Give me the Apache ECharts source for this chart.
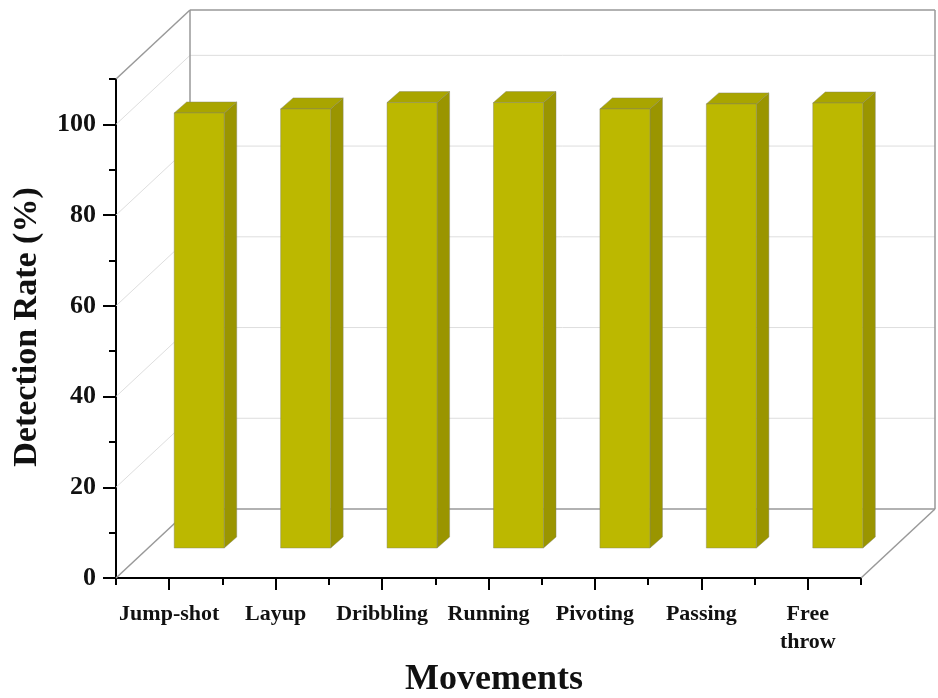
<!DOCTYPE html>
<html>
<head>
<meta charset="utf-8">
<script src="https://cdn.jsdelivr.net/npm/echarts@6/dist/echarts.min.js"></script>
<style>
  html, body { margin: 0; padding: 0; background: #fff; }
  #chart { width: 938px; height: 698px; }
</style>
</head>
<body>
<div id="chart"></div>
<script>
// Detection rate per basketball movement
const movements = ['Jump-shot', 'Layup', 'Dribbling', 'Running', 'Pivoting', 'Passing', 'Free\nthrow'];
const detectionRate = [95.9, 96.8, 98.2, 98.2, 96.8, 97.9, 98.1];
const yTickLabels = [0, 20, 40, 60, 80, 100];
const yMax = 110;

// Pseudo-3D geometry (pixels)
const DEPTH_X = 74, DEPTH_Y = -69;          // back wall offset from the front plane
const BAR_OFFSET_X = 30, BAR_OFFSET_Y = -30; // bar front face offset
const BAR_DEPTH_X = 12.5, BAR_DEPTH_Y = -11; // bar thickness
const BAR_WIDTH_RATIO = 0.47;

const FONT = "'Liberation Serif', 'Times New Roman', serif";
const FRONT_COLOR = '#bcb800', SIDE_COLOR = '#9a9500', TOP_COLOR = '#a9a500';

// Back wall, left wall and floor of the box
function renderBox(params, api) {
  const cs = params.coordSys;
  const x0 = cs.x, x1 = cs.x + cs.width;
  const y0 = api.coord([0, 0])[1];
  const yTop = api.coord([0, yMax])[1];
  const children = [];
  const line = (ax, ay, bx, by, color, width) => children.push({
    type: 'line',
    shape: { x1: ax, y1: ay, x2: bx, y2: by },
    style: { stroke: color, lineWidth: width },
    silent: true
  });
  const gridColor = '#dedede', edgeColor = '#999999';
  yTickLabels.forEach(v => {
    if (v === 0) return;
    const y = api.coord([0, v])[1];
    line(x0, y, x0 + DEPTH_X, y + DEPTH_Y, gridColor, 1);
    line(x0 + DEPTH_X, y + DEPTH_Y, x1 + DEPTH_X, y + DEPTH_Y, gridColor, 1);
  });
  line(x0, y0, x0 + DEPTH_X, y0 + DEPTH_Y, edgeColor, 1.5);
  line(x1, y0, x1 + DEPTH_X, y0 + DEPTH_Y, edgeColor, 1.5);
  line(x0 + DEPTH_X, y0 + DEPTH_Y, x1 + DEPTH_X, y0 + DEPTH_Y, edgeColor, 1.5);
  line(x0, yTop, x0 + DEPTH_X, yTop + DEPTH_Y, edgeColor, 1.5);
  line(x0 + DEPTH_X, yTop + DEPTH_Y, x1 + DEPTH_X, yTop + DEPTH_Y, edgeColor, 1.5);
  line(x0 + DEPTH_X, y0 + DEPTH_Y, x0 + DEPTH_X, yTop + DEPTH_Y, edgeColor, 1.5);
  line(x1 + DEPTH_X, y0 + DEPTH_Y, x1 + DEPTH_X, yTop + DEPTH_Y, edgeColor, 1.5);
  return { type: 'group', children };
}

// One extruded bar: front, side and top faces
function renderBar(params, api) {
  const i = api.value(0), v = api.value(1);
  const base = api.coord([i, 0]);
  const top = api.coord([i, v]);
  const w = api.size([1, 0])[0] * BAR_WIDTH_RATIO;
  const fx = base[0] + BAR_OFFSET_X - w / 2;
  const yb = base[1] + BAR_OFFSET_Y;
  const yt = top[1] + BAR_OFFSET_Y;
  const dx = BAR_DEPTH_X, dy = BAR_DEPTH_Y;
  const stroke = 'rgba(130,130,100,0.55)';
  const face = (pts, fill) => ({
    type: 'polygon',
    shape: { points: pts },
    style: { fill: fill, stroke: stroke, lineWidth: 0.8 }
  });
  return {
    type: 'group',
    children: [
      face([[fx + w, yt], [fx + w + dx, yt + dy], [fx + w + dx, yb + dy], [fx + w, yb]], SIDE_COLOR),
      face([[fx, yt], [fx + dx, yt + dy], [fx + w + dx, yt + dy], [fx + w, yt]], TOP_COLOR),
      face([[fx, yt], [fx + w, yt], [fx + w, yb], [fx, yb]], FRONT_COLOR)
    ]
  };
}

const chart = echarts.init(document.getElementById('chart'), null, { renderer: 'canvas' });

const tickStyle = { color: '#000', width: 2 };
const labelFont = { fontFamily: FONT, fontWeight: 'bold', color: '#111' };

chart.setOption({
  animation: false,
  backgroundColor: '#fff',
  grid: { left: 116, right: 77, top: 79, bottom: 120, containLabel: false },
  xAxis: [
    {
      type: 'category',
      data: movements,
      position: 'bottom',
      boundaryGap: true,
      axisLine: { show: true, lineStyle: tickStyle },
      axisTick: { show: true, alignWithLabel: true, interval: 0, length: 12, lineStyle: tickStyle },
      axisLabel: Object.assign({ interval: 0, margin: 22, fontSize: 22, lineHeight: 28 }, labelFont),
      splitLine: { show: false }
    },
    {
      type: 'category',
      data: movements,
      position: 'bottom',
      boundaryGap: true,
      axisLine: { show: false },
      axisTick: { show: true, interval: 0, length: 7, lineStyle: tickStyle },
      axisLabel: { show: false },
      splitLine: { show: false }
    }
  ],
  yAxis: [
    {
      type: 'value',
      min: 0,
      max: yMax,
      interval: 10,
      position: 'left',
      axisLine: { show: true, lineStyle: tickStyle },
      axisTick: { show: true, length: 13, lineStyle: tickStyle, customValues: yTickLabels },
      axisLabel: Object.assign({ margin: 20, fontSize: 26, customValues: yTickLabels }, labelFont),
      splitLine: { show: false }
    },
    {
      type: 'value',
      min: 0,
      max: yMax,
      interval: 10,
      position: 'left',
      axisLine: { show: false },
      axisTick: { show: true, length: 7, lineStyle: tickStyle },
      axisLabel: { show: false },
      splitLine: { show: false }
    }
  ],
  graphic: [
    {
      type: 'text',
      x: 494, y: 680,
      style: {
        text: 'Movements', font: 'bold 36px ' + FONT, fill: '#111',
        textAlign: 'center', textVerticalAlign: 'middle'
      }
    },
    {
      type: 'text',
      x: 27, y: 327,
      rotation: Math.PI / 2,
      style: {
        text: 'Detection Rate (%)', font: 'bold 34px ' + FONT, fill: '#111',
        textAlign: 'center', textVerticalAlign: 'middle'
      }
    }
  ],
  series: [
    {
      type: 'custom',
      name: 'box',
      renderItem: renderBox,
      data: [[0, 0]],
      clip: false,
      silent: true,
      z: 1
    },
    {
      type: 'custom',
      name: 'Detection Rate',
      renderItem: renderBar,
      data: detectionRate.map((v, i) => [i, v]),
      clip: false,
      z: 2
    }
  ]
});
</script>
</body>
</html>
